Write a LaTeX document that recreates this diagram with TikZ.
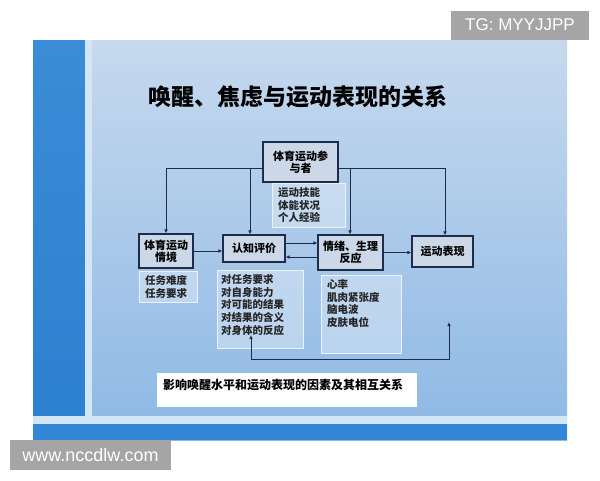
\documentclass[tikz,border=0pt]{standalone}
\usepackage{fontspec}
\setmainfont{Liberation Sans}
\newfontfamily\cjk{Noto Sans CJK SC}
\usetikzlibrary{arrows.meta}
\definecolor{navy}{HTML}{1E2C4C}
\definecolor{boxfill}{HTML}{CCD8E7}
\definecolor{ibord}{HTML}{EAF2FA}
\definecolor{ifill}{HTML}{E4EEF8}
\definecolor{bgtop}{HTML}{C6D9EE}
\definecolor{bgbot}{HTML}{8DB8E4}
\definecolor{striptop}{HTML}{3A8CD6}
\definecolor{stripbot}{HTML}{2C80D0}
\definecolor{stripline}{HTML}{D3E6F5}
\definecolor{botblue}{HTML}{3288D6}
\definecolor{wmgray}{HTML}{A5A5A5}
\tikzset{
  mbox/.style={draw=navy, line width=1.1pt, fill=boxfill, inner sep=0pt, align=center,
    font=\cjk\bfseries\fontsize{11}{12.5}\selectfont, text=black},
  ibox/.style={draw=ibord, line width=1pt, fill=ifill, fill opacity=0.45, inner sep=0pt},
  itext/.style={font=\cjk\bfseries\fontsize{10.5}{12.8}\selectfont, align=left, inner sep=0pt,
    anchor=north west, text=black!85},
  conn/.style={draw=navy, line width=1pt},
  arr/.style={conn, -{Latex[length=4pt,width=3.6pt]}},
  wm/.style={fill=wmgray, text=white, inner sep=0pt},
}
\begin{document}
\begin{tikzpicture}[x=1pt,y=-1pt]
\useasboundingbox (0,0) rectangle (600,480);
\fill[white] (0,0) rectangle (600,480);
% slide background
\fill[top color=bgtop, bottom color=bgbot] (33,40) rectangle (567,440);
\fill[top color=striptop, bottom color=stripbot] (33,40) rectangle (85,440);
\fill[stripline] (85,40) rectangle (92,440);
\fill[stripline] (33,416) rectangle (567,424);
\fill[botblue] (33,424) rectangle (567,440);
% title
\node[font=\cjk\bfseries\fontsize{23}{23}\selectfont] (title) at (298,97) {唤醒、焦虑与运动表现的关系};
% boxes
\node[mbox, minimum width=75pt, minimum height=40pt] (p) at (300.5,162) {体育运动参\\与者};
\node[ibox, minimum width=73pt, minimum height=44pt] (skill) at (308.5,205) {};
\node[itext] (skillt) at (278,187) {运动技能\\体能状况\\个人经验};
\node[mbox, minimum width=54pt, minimum height=34pt] (env) at (166,251) {体育运动\\情境};
\node[ibox, minimum width=58pt, minimum height=31pt] (task) at (168,286.5) {};
\node[itext] (taskt) at (145,275) {任务难度\\任务要求};
\node[mbox, minimum width=62pt, minimum height=27pt] (cog) at (254,248.5) {认知评价};
\node[ibox, minimum width=86pt, minimum height=78pt] (eval) at (260,309) {};
\node[itext] (evalt) at (221,274) {对任务要求\\对自身能力\\对可能的结果\\对结果的含义\\对身体的反应};
\node[mbox, minimum width=65pt, minimum height=35pt] (emo) at (350.5,252.5) {情绪、生理\\反应};
\node[ibox, minimum width=80pt, minimum height=78pt] (phys) at (361,314) {};
\node[itext] (physt) at (327,279) {心率\\肌肉紧张度\\脑电波\\皮肤电位};
\node[mbox, minimum width=61pt, minimum height=31pt] (perf) at (442.5,251.5) {运动表现};
% caption
\node[fill=white, minimum width=260pt, minimum height=34pt, inner sep=0pt] (cap) at (287,390) {};
\node[anchor=west, inner sep=0pt, font=\cjk\bfseries\fontsize{12}{12}\selectfont] (capt) at (163,385) {影响唤醒水平和运动表现的因素及其相互关系};
% connectors
\coordinate (jl) at (250,168);
\coordinate (jr) at (350,168);
\draw[arr] ([yshift=-6pt]p.west) -| (env.north);
\draw[arr] (jl) -- (jl |- cog.north);
\draw[arr] ([yshift=-6pt]p.east) -| ([xshift=2.5pt]perf.north);
\draw[arr] (jr) -- (jr |- emo.north);
\draw[arr] (env.east) -- (env.east -| cog.west);
\draw[arr] ([yshift=5.5pt]cog.east) -- ([yshift=5.5pt]cog.east -| emo.west);
\draw[arr] ([yshift=-8.5pt]cog.east -| emo.west) -- ([yshift=-8.5pt]cog.east);
\draw[arr] (emo.east) -- (emo.east -| perf.west);
\coordinate (fa) at (251,335);
\coordinate (fb) at (449,322);
\coordinate (fc) at (449,359);
\draw[conn, {Latex[length=4pt,width=3.6pt]}-{Latex[length=4pt,width=3.6pt]}] (fa) |- (fc) -- (fb);
% watermarks
\node[wm, minimum width=138pt, minimum height=29pt, font=\fontsize{17}{17}\selectfont] (tg) at (520,25) {TG: MYYJJPP};
\node[wm, minimum width=161pt, minimum height=30pt, font=\fontsize{18}{18}\selectfont] (www) at (90.5,455) {www.nccdlw.com};
\end{tikzpicture}
\end{document}
